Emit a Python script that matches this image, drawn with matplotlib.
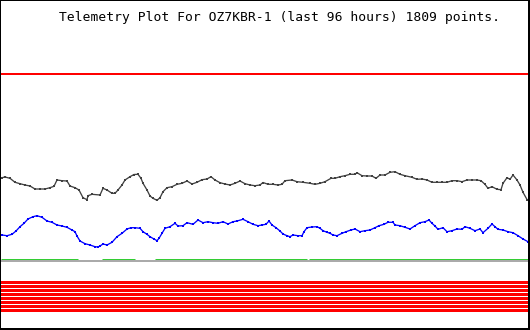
import matplotlib
matplotlib.use("Agg")
import matplotlib.pyplot as plt

# telemetry channels (x = sample position, y = raw level, screen units)
black_x = [2, 5, 10, 15, 20, 25, 30, 35, 40, 45, 50, 54, 57, 62, 67, 70, 75, 79, 83, 87,
           88, 92, 100, 103, 107, 112, 115, 118, 122, 125, 130, 134, 138, 141, 143, 147,
           150, 153, 157, 160, 163, 167, 172, 177, 182, 187, 192, 197, 202, 207, 211, 215,
           220, 225, 230, 235, 240, 245, 250, 255, 260, 263, 268, 273, 278, 282, 285, 292,
           297, 303, 310, 315, 320, 325, 331, 335, 340, 345, 350, 355, 357, 362, 367, 372,
           376, 380, 385, 390, 395, 400, 405, 412, 417, 422, 427, 432, 437, 442, 447, 452,
           457, 462, 467, 472, 477, 481, 485, 488, 492, 497, 501, 503, 507, 510, 513, 517,
           520, 523, 527]
black_y = [177.7, 177, 178.3, 182.3, 183.7, 185, 186, 189, 189, 189, 187.7, 186.3, 180,
           180.7, 181, 186, 187.7, 190, 197.7, 199.7, 195.7, 194.3, 195, 188.3, 190, 193.3,
           193.3, 190, 185, 180, 176.7, 174.5, 174.3, 178.3, 183.3, 190, 196, 198.3, 200.3,
           197.7, 191.7, 187.7, 186.7, 184.3, 183.3, 181, 184, 182.3, 179.7, 179, 176.7,
           180, 182.7, 184, 185, 183.3, 181, 183.7, 185, 185.7, 185, 182.5, 184.3, 184.3,
           185, 184.3, 180.7, 180, 181.7, 182.3, 183.3, 184.3, 183.3, 181.7, 178.3, 178.3,
           176.7, 175.7, 174.3, 174.3, 172.7, 175.7, 176, 176, 178.3, 175, 175, 172.3,
           171.7, 174.3, 175.7, 177.3, 179.3, 179, 180, 182.3, 182.3, 182.3, 182.3, 180.7,
           180.7, 181.7, 180, 180, 180, 180.7, 184.3, 188.3, 186.7, 189.3, 189.7, 183.3,
           177.7, 179.3, 175, 180, 185, 192.3, 199.5]

blue_x = [2, 7, 12, 16, 20, 24, 28, 33, 37, 42, 47, 52, 57, 62, 67, 72, 75, 77, 80, 85,
          90, 95, 98, 100, 103, 107, 112, 117, 122, 127, 131, 135, 140, 143, 147, 150, 154,
          157, 159, 162, 165, 170, 175, 178, 183, 187, 193, 198, 203, 208, 213, 218, 223,
          228, 233, 237, 243, 248, 253, 258, 262, 266, 269, 272, 276, 280, 283, 287, 290,
          293, 298, 302, 304, 307, 312, 317, 320, 323, 327, 330, 333, 337, 342, 346, 351,
          355, 360, 365, 370, 375, 379, 384, 388, 393, 395, 400, 405, 410, 415, 420, 425,
          429, 432, 435, 438, 443, 447, 452, 457, 462, 465, 470, 475, 480, 483, 488, 492,
          495, 498, 503, 508, 513, 518, 523, 528]
blue_y = [235, 235.7, 234.3, 231, 226.7, 223.3, 219, 216.7, 215.7, 217.3, 221, 222.3, 225,
          226, 227.3, 230, 231.7, 236, 241, 243.7, 245, 246.7, 247, 246, 244, 245, 242.3,
          236.7, 233.3, 229, 227.7, 227.7, 228.3, 231.7, 234.3, 236.7, 239, 240.7, 238.3,
          233.3, 228.3, 226.7, 223.3, 226, 225.7, 222.7, 224.3, 220, 222.7, 221.7, 222.7,
          223.3, 221.7, 224, 221.7, 221, 219.3, 221.7, 224.3, 225.7, 225, 224.3, 221, 225,
          227.7, 231, 234, 235.7, 236.7, 235, 235.7, 235.7, 231.7, 227.7, 227, 226.7, 228.3,
          230.7, 232.3, 233.3, 235, 235.7, 233.3, 231.7, 230, 229, 231.7, 230.7, 230, 227.7,
          225.7, 224.3, 222.3, 222.3, 225, 225.7, 227.3, 229, 225.7, 222.7, 221.7, 220,
          223.3, 226, 229.3, 227.7, 231.7, 230.7, 229, 229.3, 226.7, 228.3, 230.7, 229,
          232.7, 228.3, 224, 226.7, 229.3, 230, 231.7, 232.7, 235.7, 239, 241.7]

# status channels (flat)
green_level = 259
green_spans = [(1, 78), (102, 135), (155, 307), (309, 528)]
gray_level = 260.5
upper_limit = 73.5
red_levels = [281.5, 285.5, 289.5, 293.5, 297.5, 301.5, 305.5, 309.5]

title = "Telemetry Plot For OZ7KBR-1 (last 96 hours) 1809 points."

W, H = 530, 330
fig = plt.figure(figsize=(W / 100, H / 100), dpi=100)
ax = fig.add_axes([0, 1.5 / H, 528.5 / W, 328.5 / H])
ax.set_xlim(0, 528.5)
ax.set_ylim(328.5, 0)
ax.set_xticks([])
ax.set_yticks([])
for s in ax.spines.values():
    s.set_linewidth(1.44)
    s.set_color("black")

px = 0.72  # one pixel in points

ax.axhline(upper_limit, color="#ff0000", lw=2 * px)
for lvl in red_levels:
    ax.axhline(lvl, color="#ff0000", lw=3 * px)

ax.axhline(gray_level, color="#aaaaaa", lw=2 * px)
for a, b in green_spans:
    ax.plot([a, b], [green_level, green_level], color="#33cc33", lw=1 * px,
            solid_capstyle="butt")

# points are drawn as small squares joined by a thin trace
ax.plot(black_x, black_y, color="#404040", lw=1.3 * px, marker="s", ms=2 * px,
        mew=0)
ax.plot(blue_x, blue_y, color="#0000ff", lw=1.3 * px, marker="s", ms=2.2 * px,
        mew=0)

fig.text(59 / W, 1 - 18 / H, title, family="DejaVu Sans Mono", fontsize=9.35,
         va="center", ha="left")

fig.savefig("out.png", dpi=100)
